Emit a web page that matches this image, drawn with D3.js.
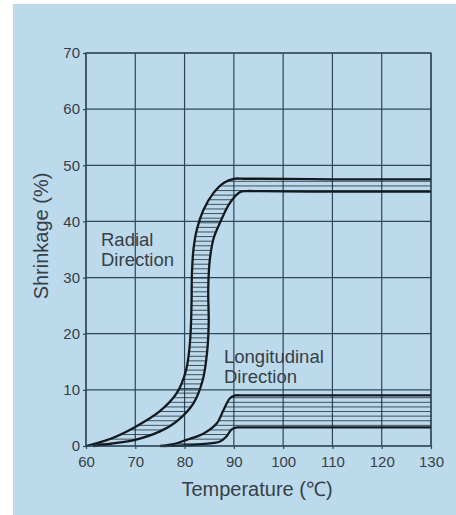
<!DOCTYPE html>
<html>
  <head>
    <meta charset="utf-8">
    <title>Shrinkage vs Temperature</title>
    <script src="https://d3js.org/d3.v7.min.js"></script>
    <style>
      body { margin: 0; background: #fff; }
      #chart text { font-family: "Liberation Sans", Arial, sans-serif; fill: #374046; }
    </style>
  </head>
  <body>
    <div id="chart"></div>
    <script>
      // curve points: [temperature, shrinkage %]
      var radialUpper = [[60,0],[65,1.3],[70,3.4],[75,6.2],[78.4,9.4],[80.3,13.5],[81.1,18.5],[81.4,24.8],[81.5,30.8],[81.8,35],[82.5,38.6],[83.8,42],[85.8,45],[88,46.9],[90,47.6],[92,47.6],[95,47.6],[110,47.5],[130,47.5]];
      var radialLower = [[61.5,0],[65,0.4],[70,1.1],[75,2.6],[78.4,4.4],[81.8,7.6],[83.7,11.8],[84.6,17],[84.9,22],[84.8,27.8],[85.1,33],[85.9,37],[87.2,39.8],[89.2,43.3],[91.2,45.2],[92.6,45.4],[95,45.4],[110,45.3],[130,45.3]];
      var longUpper = [[75,0],[78,0.4],[80.4,1.1],[83.8,2.2],[86.5,4.0],[87.9,6.4],[89.2,8.5],[90.3,9.0],[92,9.0],[100,9.0],[130,9.0]];
      var longLower = [[75.5,0],[80,0.1],[83,0.3],[87.2,0.8],[88.5,1.7],[89.5,2.9],[90.6,3.3],[92,3.3],[100,3.3],[130,3.3]];

      var xTicks = [60, 70, 80, 90, 100, 110, 120, 130];
      var yTicks = [0, 10, 20, 30, 40, 50, 60, 70];

      var W = 456, H = 515;
      var margin = {top: 53, right: 25, bottom: 69, left: 86};
      var width = W - margin.left - margin.right,
          height = H - margin.top - margin.bottom;

      var svg = d3.select("#chart").append("svg")
        .attr("width", W)
        .attr("height", H);

      // light blue scan background
      svg.append("rect")
        .attr("x", 13).attr("y", 4)
        .attr("width", W - 13).attr("height", H - 4)
        .attr("fill", "#bcdaec");

      var g = svg.append("g")
        .attr("transform", "translate(" + margin.left + "," + margin.top + ")");

      var x = d3.scaleLinear().domain([60, 130]).range([0, width]);
      var y = d3.scaleLinear().domain([0, 70]).range([height, 0]);

      var gridColor = "#2d4858";

      g.selectAll(".vgrid").data(xTicks).enter().append("line")
        .attr("x1", function(d) { return x(d); })
        .attr("x2", function(d) { return x(d); })
        .attr("y1", 0).attr("y2", height)
        .attr("stroke", gridColor).attr("stroke-width", 1.2);

      g.selectAll(".hgrid").data(yTicks).enter().append("line")
        .attr("y1", function(d) { return y(d); })
        .attr("y2", function(d) { return y(d); })
        .attr("x1", 0).attr("x2", width)
        .attr("stroke", gridColor).attr("stroke-width", 1.2);

      var xAxis = g.append("g")
        .attr("transform", "translate(0," + height + ")")
        .call(d3.axisBottom(x).tickValues(xTicks).tickSize(3).tickPadding(7));
      var yAxis = g.append("g")
        .call(d3.axisLeft(y).tickValues(yTicks).tickSize(3).tickPadding(3));
      [xAxis, yAxis].forEach(function(a) {
        a.select(".domain").remove();
        a.selectAll("line").attr("stroke", gridColor).attr("stroke-width", 1.2);
        a.selectAll("text").style("font-size", "15px");
      });

      var line = d3.line()
        .x(function(d) { return x(d[0]); })
        .y(function(d) { return y(d[1]); })
        .curve(d3.curveCatmullRom.alpha(0.5));

      function bandPath(upper, lower) {
        return line(upper) + "L" + line(lower.slice().reverse()).slice(1) + "Z";
      }

      var defs = svg.append("defs");
      defs.append("clipPath").attr("id", "clipRadial")
        .append("path").attr("d", bandPath(radialUpper, radialLower));
      defs.append("clipPath").attr("id", "clipLong")
        .append("path").attr("d", bandPath(longUpper, longLower));

      // hatch lines inside the bands
      var hatchStep = 0.82;
      function hatch(clipId, top) {
        g.append("g").attr("clip-path", "url(#" + clipId + ")")
          .selectAll("line").data(d3.range(0.4, top, hatchStep)).enter().append("line")
          .attr("x1", x(60)).attr("x2", x(130))
          .attr("y1", function(d) { return y(d); })
          .attr("y2", function(d) { return y(d); })
          .attr("stroke", "#1f2d36").attr("stroke-width", 0.8);
      }
      hatch("clipRadial", 48);
      hatch("clipLong", 9.5);

      [radialUpper, radialLower, longUpper, longLower].forEach(function(c) {
        g.append("path")
          .attr("d", line(c))
          .attr("fill", "none")
          .attr("stroke", "#121a1f")
          .attr("stroke-width", 2.3);
      });

      // frame
      g.append("rect")
        .attr("width", width).attr("height", height)
        .attr("fill", "none").attr("stroke", gridColor).attr("stroke-width", 1.3);

      // series labels
      var labels = [
        {t: ["Radial", "Direction"], px: 101, py: 240},
        {t: ["Longitudinal", "Direction"], px: 224, py: 357}
      ];
      labels.forEach(function(l) {
        l.t.forEach(function(s, i) {
          svg.append("text")
            .attr("x", l.px).attr("y", l.py + i * 19.5)
            .attr("dy", "0.35em")
            .style("font-size", "18.5px")
            .text(s);
        });
      });

      // axis titles
      svg.append("text")
        .attr("x", 257).attr("y", 489)
        .attr("dy", "0.35em")
        .attr("text-anchor", "middle")
        .style("font-size", "20px")
        .text("Temperature (℃)");

      svg.append("text")
        .attr("transform", "translate(41,236) rotate(-90)")
        .attr("dy", "0.35em")
        .attr("text-anchor", "middle")
        .style("font-size", "20px")
        .text("Shrinkage (%)");
    </script>
  </body>
</html>
